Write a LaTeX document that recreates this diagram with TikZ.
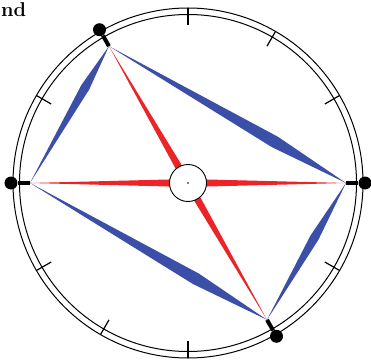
\documentclass[tikz,border=0pt]{standalone}
\usepackage{fontspec}
\usepackage{tikz}
\usetikzlibrary{calc}
\definecolor{edgeblue}{HTML}{3B4FA8}
\definecolor{spokered}{HTML}{EC2427}

\begin{document}
\begin{tikzpicture}[
  x=1pt, y=1pt,
  rim/.style={line width=1pt, black},
  tick/.style={line width=1.2pt, black},
  knob/.style={circle, fill=black, minimum size=13pt, inner sep=0pt},
  stub/.style={line width=4pt, black},
  hubring/.style={circle, draw=black, line width=0.9pt, fill=white, minimum size=37pt, inner sep=0pt},
]
\useasboundingbox (-188,-178) rectangle (183,183);

% the dial
\draw[rim] (0,0) circle (175);
\draw[rim] (0,0) circle (168.5);
\foreach \a in {30,60,90,150,210,240,270,330}
  \draw[tick] (\a:158) -- (\a:175);

% corners of the quadrilateral
\coordinate (ve) at (0:158);
\coordinate (vnw) at (120:158);
\coordinate (vw) at (180:158);
\coordinate (vse) at (300:158);

% blue edges
\fill[edgeblue] (vnw) -- ($(vnw)!0.7!(ve)!6pt!90:(ve)$) -- (ve) -- ($(vnw)!0.7!(ve)!6pt!-90:(ve)$) -- cycle;
\fill[edgeblue] (vw) -- ($(vw)!0.7!(vse)!6pt!90:(vse)$) -- (vse) -- ($(vw)!0.7!(vse)!6pt!-90:(vse)$) -- cycle;
\fill[edgeblue] (vw) -- ($(vw)!0.7!(vnw)!4.5pt!90:(vnw)$) -- (vnw) -- ($(vw)!0.7!(vnw)!4.5pt!-90:(vnw)$) -- cycle;
\fill[edgeblue] (vse) -- ($(vse)!0.6!(ve)!4.5pt!90:(ve)$) -- (ve) -- ($(vse)!0.6!(ve)!4.5pt!-90:(ve)$) -- cycle;

% red spokes
\coordinate (o) at (0,0);
\foreach \v in {ve,vnw,vw,vse}
  \fill[spokered] (\v) -- ($(o)!4pt!90:(\v)$) -- ($(o)!4pt!-90:(\v)$) -- cycle;

\node[hubring] (hub) at (o) {};
\fill (hub.center) circle (0.9);

% knobs on the rim
\foreach \a/\n in {0/e,120/nw,180/w,300/se} {
  \node[knob] (k\n) at (\a:177) {};
  \draw[stub] (k\n) -- (v\n);
}

\node[anchor=base west, inner sep=0pt, font=\fontsize{20}{24}\selectfont\bfseries] (label) at (-187,166) {nd};
\end{tikzpicture}
\end{document}
